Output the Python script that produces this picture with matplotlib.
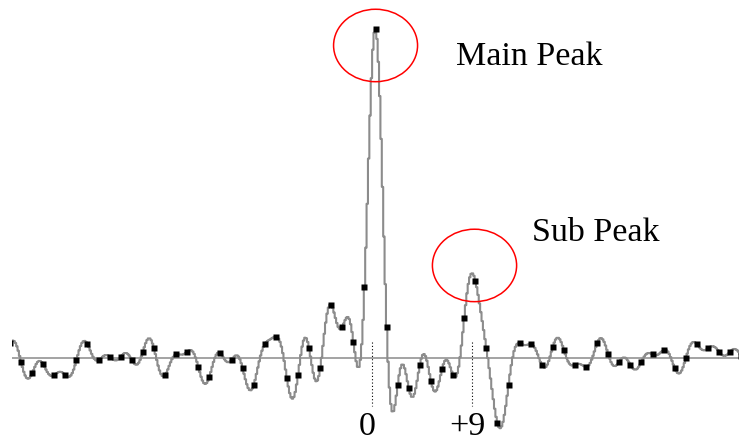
import numpy as np
import matplotlib
matplotlib.use("Agg")
import matplotlib.pyplot as plt
from matplotlib.patches import Ellipse

# Correlation values per lag (normalised so the main peak is 1.0)
lags = np.arange(-33, 34)
corr = [
    0.046,
    -0.010, -0.046, -0.018, -0.051, -0.051, -0.006, 0.043, -0.006, 0.005, 0.005,
    -0.005, 0.020, 0.030, -0.051, 0.012, 0.020, -0.026, -0.056, 0.015, -0.005,
    -0.030, -0.081, 0.043, 0.066, -0.061, -0.051, 0.030, -0.030, 0.162, 0.096,
    0.050, 0.216,
    1.000,
    0.096, -0.081, -0.091, -0.020, -0.069, -0.033, -0.051, 0.121, 0.236, 0.030,
    -0.197, -0.081, 0.046, 0.043, -0.020, 0.035, 0.025, -0.020, -0.026, 0.046,
    0.012, -0.010, -0.020, -0.010, 0.012, 0.025, -0.030, 0.000, 0.043, 0.030,
    0.020, 0.020,
    0.007,
]
corr = np.array(corr)

main_lag, sub_lag = 0, 9
tick_lags = [0, 9]
tick_labels = ["0", "+9"]
main_text = "Main Peak"
sub_text = "Sub Peak"

W, H = 739, 442
fig = plt.figure(figsize=(W / 100, H / 100), dpi=100)
ax = fig.add_axes([12 / W, 0, (W - 12) / W, 1])
ax.set_xlim(-32.812, 32.80)
ax.set_ylim(-0.2542, 1.0881)
ax.axis("off")

# Band-limited (sinc) reconstruction of the sampled correlation
sub = 8
xf = np.arange(lags[0], lags[-1] + 1e-9, 1 / sub)
yf = np.sum(corr[None, :] * np.sinc(xf[:, None] - lags[None, :]), axis=1)

ax.axhline(0, color="#8a8a8a", lw=1.1, zorder=1)
ax.plot(xf, yf, color="#8c8c8c", lw=1.5, drawstyle="steps-mid", zorder=2)
ax.plot(lags, corr, ls="none", marker="s", ms=3.7, mec="none", mfc="black", zorder=3)

font = dict(fontsize=24.5, family="Liberation Serif")

# Dotted markers for the labelled lags
for lag, lab in zip(tick_lags, tick_labels):
    ax.plot([lag - 0.3, lag - 0.3], [0.05, -0.145], color="black",
            lw=0.8, ls=(0, (1, 2)), zorder=2)
    ax.text(lag - 0.72, -0.2535, lab, ha="center", va="bottom", **font)

# Circles around the peaks
main_val = corr[lags == main_lag][0]
sub_val = corr[lags == sub_lag][0]
ax.add_patch(Ellipse((main_lag, main_val - 0.05), 7.58, 0.22, fill=False,
                     ec="red", lw=1.1, zorder=4))
ax.add_patch(Ellipse((sub_lag - 0.07, sub_val + 0.046), 7.6, 0.22, fill=False,
                     ec="red", lw=1.1, zorder=4))

ax.text(7.26, 0.891, main_text, ha="left", va="baseline", **font)
ax.text(14.1, 0.357, sub_text, ha="left", va="baseline", **font)

fig.savefig("out.png", dpi=100)
